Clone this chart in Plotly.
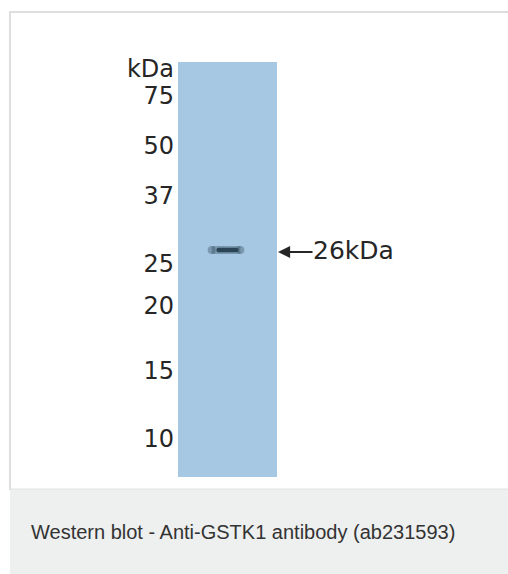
import plotly.graph_objects as go

# ---- data read from the blot ----
marker_labels = ["75", "50", "37", "25", "20", "15", "10"]
marker_rf = [0.080, 0.200, 0.320, 0.484, 0.586, 0.742, 0.906]   # relative migration down the lane
unit_label = "kDa"
unit_rf = 0.014
band_rf = 0.453          # detected band
band_x = [0.84, 1.13]    # band extent across the lane (lane units)
band_label = "26kDa"
caption = "Western blot - Anti-GSTK1 antibody (ab231593)"

W, H = 508, 574

lane_px0, lane_px1 = 178, 277
lane_top, lane_bot = 62, 477
xc = (lane_px0 + lane_px1) / 2
xw = lane_px1 - lane_px0
x_range = [1 + (0 - xc) / xw, 1 + (W - xc) / xw]
lh = lane_bot - lane_top
y_range = [(H - lane_top) / lh, (0 - lane_top) / lh]
text_dy = 3 / lh   # compensate for text middle alignment sitting slightly high

def px_to_x(p):
    return 1 + (p - xc) / xw

def py_paper(p):
    return 1 - p / H

def px_paper(p):
    return p / W

FONT = "DejaVu Sans, Arial"

fig = go.Figure()

# lane
fig.add_trace(go.Bar(x=[1], y=[1], base=[0], width=[1],
                     marker=dict(color="#a7c8e2", line=dict(width=0)),
                     hoverinfo="skip", showlegend=False))

# band (soft halo + dark core, rounded ends)
fig.add_trace(go.Scatter(x=band_x, y=[band_rf, band_rf], mode="lines+markers",
                         line=dict(color="rgba(40,66,84,0.35)", width=8),
                         marker=dict(size=8, color="rgba(40,66,84,0.35)"),
                         hoverinfo="skip", showlegend=False))
fig.add_trace(go.Scatter(x=[band_x[0] + 0.07, band_x[1] - 0.04], y=[band_rf, band_rf],
                         mode="lines+markers",
                         line=dict(color="#2b4556", width=4.5),
                         marker=dict(size=4.5, color="#2b4556"),
                         hoverinfo="skip", showlegend=False))

# marker labels
lab_x = px_to_x(174)
fig.add_trace(go.Scatter(x=[lab_x] * (len(marker_labels) + 1),
                         y=[r + text_dy for r in [unit_rf] + marker_rf],
                         text=[unit_label] + marker_labels,
                         mode="text", textposition="middle left",
                         textfont=dict(family=FONT, size=24, color="#262626"),
                         hoverinfo="skip", showlegend=False))

# arrow + band label
head_x = px_to_x(278)
tail_x = px_to_x(314)
fig.add_annotation(x=head_x, y=band_rf + 2 / lh, ax=tail_x, ay=band_rf + 2 / lh,
                   xref="x", yref="y", axref="x", ayref="y",
                   text="", showarrow=True, arrowhead=2, arrowsize=1.1,
                   arrowwidth=2.2, arrowcolor="#262626")
fig.add_trace(go.Scatter(x=[tail_x - 0.01], y=[band_rf + text_dy], text=[band_label],
                         mode="text", textposition="middle right",
                         textfont=dict(family=FONT, size=25, color="#262626"),
                         hoverinfo="skip", showlegend=False))

# frame and caption area
fig.add_shape(type="rect", xref="paper", yref="paper",
              x0=px_paper(10), x1=1.0, y0=0, y1=py_paper(489),
              fillcolor="#eeefef", line=dict(width=0), layer="below")
fig.add_shape(type="line", xref="paper", yref="paper",
              x0=px_paper(10), x1=px_paper(10), y0=py_paper(490), y1=py_paper(11),
              line=dict(color="#dedede", width=2))
fig.add_shape(type="line", xref="paper", yref="paper",
              x0=px_paper(10), x1=1.0, y0=py_paper(12), y1=py_paper(12),
              line=dict(color="#dedede", width=2))
fig.add_shape(type="line", xref="paper", yref="paper",
              x0=px_paper(10), x1=1.0, y0=py_paper(489), y1=py_paper(489),
              line=dict(color="#e2e2e2", width=1))
fig.add_annotation(xref="paper", yref="paper", x=px_paper(29), y=py_paper(532),
                   xanchor="left", yanchor="middle", showarrow=False,
                   text=caption,
                   font=dict(family="Liberation Sans, Arial", size=20, color="#333333"))

fig.update_layout(
    width=W, height=H,
    margin=dict(l=0, r=0, t=0, b=0),
    paper_bgcolor="white", plot_bgcolor="rgba(0,0,0,0)",
    xaxis=dict(range=x_range, visible=False, fixedrange=True),
    yaxis=dict(range=y_range, visible=False, fixedrange=True),
    bargap=0,
)

fig.write_html("out.html", config={"displayModeBar": False},
               post_script="document.body.style.margin='0';document.body.style.overflow='hidden';")
